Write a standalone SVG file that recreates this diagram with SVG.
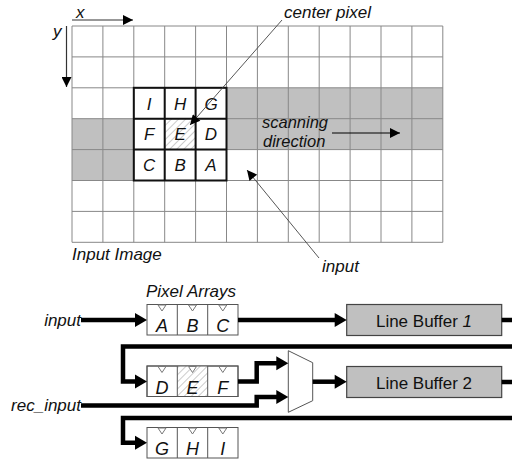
<svg xmlns="http://www.w3.org/2000/svg" width="512" height="462" viewBox="0 0 512 462">
<style>
text{font-family:"Liberation Sans",Arial,sans-serif;fill:#111}
.it{font-style:italic}
.grid{stroke:#888;stroke-width:1;fill:none}
.gray{fill:#c0c0c0}
.win{stroke:#111;stroke-width:2;fill:none}
.bus{stroke:#000;stroke-width:4.5;fill:none}
.cell{fill:#fff;stroke:#555;stroke-width:1}
.clk{fill:#fff;stroke:#777;stroke-width:1}
.lb{fill:#c0c0c0;stroke:#444;stroke-width:1.2}
</style>
<defs>
<pattern id="hatch" patternUnits="userSpaceOnUse" width="5" height="5" patternTransform="rotate(45)">
<rect width="5" height="5" fill="#fff"/>
<line x1="0" y1="0" x2="0" y2="5" stroke="#999" stroke-width="1"/>
</pattern>
<marker id="ah" viewBox="0 0 10 10" refX="10" refY="5" markerWidth="11" markerHeight="10" markerUnits="userSpaceOnUse" orient="auto"><path d="M0,0 L10,5 L0,10 z" fill="#000"/></marker>
</defs>

<g id="input-image">
<rect class="gray" x="226.5" y="87.8" width="216.3" height="61.8"/>
<rect class="gray" x="72" y="118.7" width="61.8" height="61.8"/>
<rect x="164.7" y="118.7" width="30.9" height="30.9" fill="url(#hatch)"/>
<g class="grid">
<path d="M72,26V242.3M102.9,26V242.3M133.8,26V242.3M164.7,26V242.3M195.6,26V242.3M226.5,26V242.3M257.4,26V242.3M288.3,26V242.3M319.2,26V242.3M350.1,26V242.3M381,26V242.3M411.9,26V242.3M442.8,26V242.3"/>
<path d="M72,26H442.8M72,56.9H442.8M72,87.8H442.8M72,118.7H442.8M72,149.6H442.8M72,180.5H442.8M72,211.4H442.8M72,242.3H442.8"/>
</g>
<rect class="win" x="133.8" y="87.8" width="92.7" height="92.7"/>
<path class="win" d="M164.7,87.8V180.5M195.6,87.8V180.5M133.8,118.7H226.5M133.8,149.6H226.5" stroke-width="1.5"/>
<g class="it" font-size="17" text-anchor="middle">
<text x="149.2" y="109.5">I</text><text x="180.1" y="109.5">H</text><text x="211" y="109.5">G</text>
<text x="149.2" y="140.4">F</text><text x="180.1" y="140.4">E</text><text x="211" y="140.4">D</text>
<text x="149.2" y="171.3">C</text><text x="180.1" y="171.3">B</text><text x="211" y="171.3">A</text>
</g>
<text class="it" x="72" y="260" font-size="17">Input Image</text>
</g>

<g id="axes">
<line x1="72" y1="20" x2="133" y2="20" stroke="#333" stroke-width="1.2" marker-end="url(#ah)"/>
<line x1="66.5" y1="26" x2="66.5" y2="87" stroke="#333" stroke-width="1.2" marker-end="url(#ah)"/>
<text class="it" x="76" y="18" font-size="17">x</text>
<text class="it" x="53" y="37" font-size="17">y</text>
</g>

<g id="center-pixel-label">
<line x1="282" y1="20" x2="190" y2="125" stroke="#444" stroke-width="0.9" marker-end="url(#ah)"/>
<text class="it" x="284" y="18" font-size="17">center pixel</text>
</g>

<g id="scanning-direction">
<text class="it" x="262" y="127.5" font-size="16.5">scanning</text>
<text class="it" x="263" y="147" font-size="16.5">direction</text>
<line x1="332" y1="133" x2="400" y2="133" stroke="#000" stroke-width="1.2" marker-end="url(#ah)"/>
</g>

<g id="input-label">
<line x1="319" y1="258" x2="247" y2="170" stroke="#444" stroke-width="0.9" marker-end="url(#ah)"/>
<text class="it" x="322" y="272" font-size="17">input</text>
</g>

<g id="pixel-arrays">
<text class="it" x="191" y="297" font-size="17" text-anchor="middle">Pixel Arrays</text>
<g id="row-abc">
<rect class="cell" x="147" y="304.5" width="91" height="30.5"/>
<path d="M177.3,304.5V335M207.7,304.5V335" stroke="#555" stroke-width="1"/>
<path class="clk" d="M158,305 L166,305 L162,311 z M188.5,305 L196.5,305 L192.5,311 z M218.8,305 L226.8,305 L222.8,311 z"/>
<g class="it" font-size="18" text-anchor="middle"><text x="162" y="332">A</text><text x="192.5" y="332">B</text><text x="222.8" y="332">C</text></g>
</g>
<g id="row-def">
<rect class="cell" x="147" y="366" width="91" height="30.5"/>
<rect x="177.3" y="366" width="30.4" height="30.5" fill="url(#hatch)"/>
<path d="M177.3,366V396.5M207.7,366V396.5" stroke="#555" stroke-width="1"/>
<rect x="147" y="366" width="91" height="30.5" fill="none" stroke="#555"/>
<path class="clk" d="M158,366.5 L166,366.5 L162,372.5 z M188.5,366.5 L196.5,366.5 L192.5,372.5 z M218.8,366.5 L226.8,366.5 L222.8,372.5 z"/>
<g class="it" font-size="18" text-anchor="middle"><text x="162" y="393.5">D</text><text x="192.5" y="393.5">E</text><text x="222.8" y="393.5">F</text></g>
</g>
<g id="row-ghi">
<rect class="cell" x="147" y="427.5" width="91" height="30.5"/>
<path d="M177.3,427.5V458M207.7,427.5V458" stroke="#555" stroke-width="1"/>
<path class="clk" d="M158,428 L166,428 L162,434 z M188.5,428 L196.5,428 L192.5,434 z M218.8,428 L226.8,428 L222.8,434 z"/>
<g class="it" font-size="18" text-anchor="middle"><text x="162" y="455">G</text><text x="192.5" y="455">H</text><text x="222.8" y="455">I</text></g>
</g>
</g>

<g id="line-buffer-1">
<rect class="lb" x="346.7" y="304.5" width="155" height="31"/>
<text x="424" y="326.5" font-size="17" text-anchor="middle">Line Buffer <tspan font-style="italic">1</tspan></text>
</g>
<g id="line-buffer-2">
<rect class="lb" x="346.7" y="366.5" width="155" height="31"/>
<text x="424" y="388.5" font-size="17" text-anchor="middle">Line Buffer 2</text>
</g>
<g id="mux">
<path d="M288.3,350.7 L312.7,362.7 L312.7,400.7 L288.3,412.3 z" fill="#fff" stroke="#555" stroke-width="1"/>
</g>

<g id="labels">
<text class="it" x="81" y="326" font-size="17" text-anchor="end">input</text>
<text class="it" x="81" y="411" font-size="17" text-anchor="end">rec_input</text>
</g>

<g id="connectors">
<path class="bus" d="M81,320 H136"/>
<path d="M135,313 L147,320 L135,327 z" fill="#000"/>
<path class="bus" d="M238,320 H336"/>
<path d="M334.7,313 L346.7,320 L334.7,327 z" fill="#000"/>
<path class="bus" d="M501.7,320 H512"/>
<path class="bus" d="M512,346.5 H123 V381.5 H136"/>
<path d="M135,374.5 L147,381.5 L135,388.5 z" fill="#000"/>
<path class="bus" d="M238,381.5 H256.7 V363.3 H278"/>
<path d="M276.3,356.3 L288.3,363.3 L276.3,370.3 z" fill="#000"/>
<path class="bus" d="M81,405.5 H256.7 V397 H278"/>
<path d="M276.3,390 L288.3,397 L276.3,404 z" fill="#000"/>
<path class="bus" d="M312.7,381.7 H336"/>
<path d="M334.7,374.7 L346.7,381.7 L334.7,388.7 z" fill="#000"/>
<path class="bus" d="M501.7,382 H512"/>
<path class="bus" d="M512,418 H123 V442.7 H136"/>
<path d="M135,435.7 L147,442.7 L135,449.7 z" fill="#000"/>
</g>
</svg>
